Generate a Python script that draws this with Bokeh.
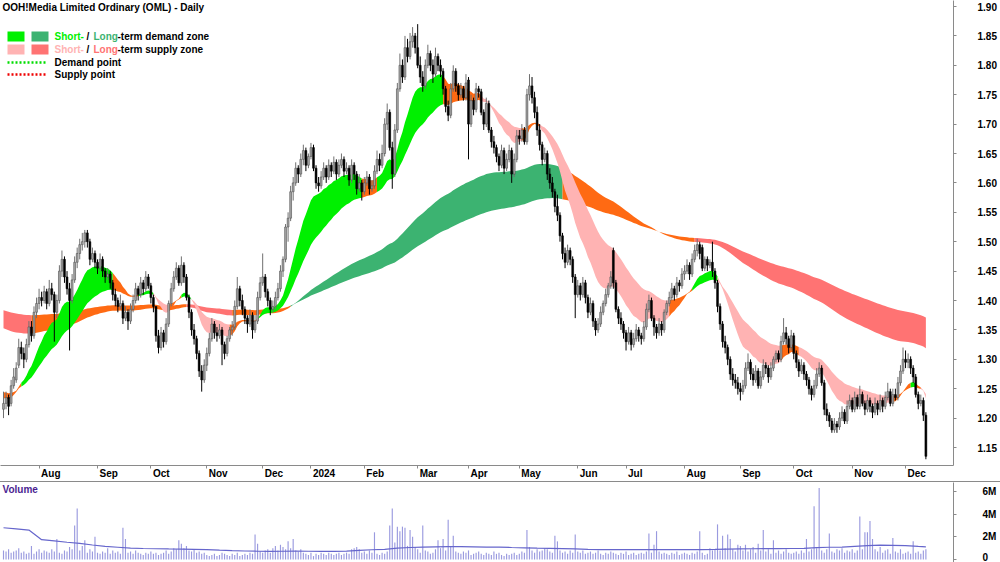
import numpy as np
import pandas as pd
from bokeh.plotting import figure
from bokeh.models import (Range1d, FixedTicker, Label, BoxAnnotation, PrintfTickFormatter, Div,
                          ColumnDataSource, LinearAxis, CustomLabelingPolicy)
from bokeh.layouts import column
from bokeh.embed import file_html
from bokeh.resources import INLINE

# ---------------- data ----------------
START = "2023-07-12"
END = "2024-12-12"
HOLIDAYS = ["2023-12-25", "2023-12-26", "2024-01-01", "2024-01-26", "2024-03-29",
            "2024-04-01", "2024-04-25", "2024-06-10"]

OPEN = [1.215,1.225,1.235,1.225,1.255,1.265,1.290,1.320,1.310,1.300,
1.325,1.355,1.340,1.380,1.395,1.405,1.400,1.415,1.395,1.420,
1.410,1.380,1.400,1.450,1.470,1.440,1.420,1.400,1.435,1.465,
1.480,1.495,1.500,1.515,1.500,1.470,1.480,1.465,1.455,1.470,
1.450,1.440,1.445,1.430,1.410,1.400,1.390,1.395,1.370,1.380,
1.365,1.385,1.400,1.420,1.410,1.430,1.420,1.440,1.425,1.405,
1.390,1.340,1.320,1.345,1.330,1.360,1.395,1.420,1.440,1.455,
1.430,1.460,1.440,1.405,1.380,1.350,1.335,1.310,1.280,1.265,
1.290,1.310,1.335,1.360,1.345,1.340,1.350,1.325,1.310,1.335,
1.350,1.355,1.390,1.420,1.400,1.385,1.370,1.360,1.375,1.350,
1.365,1.405,1.430,1.440,1.415,1.400,1.385,1.390,1.405,1.420,
1.450,1.470,1.525,1.540,1.585,1.600,1.625,1.615,1.640,1.655,
1.630,1.645,1.660,1.625,1.600,1.595,1.610,1.625,1.610,1.630,
1.620,1.635,1.615,1.630,1.640,1.620,1.625,1.605,1.630,1.615,
1.590,1.600,1.585,1.600,1.610,1.590,1.595,1.620,1.640,1.630,
1.650,1.700,1.720,1.660,1.615,1.690,1.760,1.800,1.780,1.830,
1.815,1.840,1.850,1.830,1.800,1.780,1.765,1.800,1.820,1.800,
1.785,1.815,1.800,1.790,1.760,1.730,1.715,1.760,1.790,1.765,
1.750,1.760,1.745,1.775,1.700,1.740,1.725,1.760,1.755,1.720,
1.700,1.735,1.690,1.670,1.660,1.645,1.630,1.655,1.625,1.640,
1.655,1.615,1.640,1.680,1.675,1.690,1.670,1.750,1.765,1.745,
1.720,1.690,1.665,1.640,1.650,1.615,1.600,1.585,1.560,1.545,
1.510,1.480,1.465,1.485,1.470,1.440,1.410,1.425,1.410,1.430,
1.405,1.380,1.395,1.365,1.350,1.360,1.380,1.395,1.410,1.425,
1.485,1.430,1.385,1.370,1.360,1.345,1.330,1.345,1.325,1.335,
1.350,1.340,1.335,1.355,1.385,1.400,1.370,1.355,1.345,1.360,
1.350,1.380,1.395,1.405,1.420,1.410,1.430,1.425,1.445,1.450,
1.460,1.445,1.470,1.485,1.495,1.490,1.455,1.470,1.460,1.465,
1.450,1.430,1.390,1.360,1.330,1.320,1.300,1.275,1.265,1.260,
1.250,1.245,1.255,1.285,1.295,1.275,1.265,1.280,1.255,1.270,
1.290,1.285,1.270,1.285,1.300,1.310,1.300,1.330,1.345,1.335,
1.320,1.340,1.310,1.295,1.280,1.290,1.275,1.265,1.250,1.240,
1.255,1.275,1.285,1.260,1.215,1.205,1.195,1.180,1.190,1.185,
1.200,1.210,1.195,1.220,1.230,1.215,1.235,1.220,1.240,1.225,
1.215,1.230,1.220,1.210,1.225,1.215,1.230,1.220,1.235,1.245,
1.225,1.240,1.235,1.260,1.280,1.300,1.295,1.300,1.285,1.270,
1.240,1.225,1.230,1.205]

HIGH = [1.245,1.245,1.240,1.265,1.285,1.295,1.335,1.330,1.320,1.335,
1.365,1.365,1.390,1.405,1.420,1.415,1.425,1.420,1.435,1.430,
1.415,1.410,1.460,1.485,1.475,1.450,1.430,1.445,1.475,1.490,
1.505,1.515,1.520,1.520,1.505,1.490,1.485,1.470,1.480,1.475,
1.455,1.455,1.450,1.435,1.420,1.405,1.410,1.400,1.390,1.385,
1.395,1.410,1.430,1.425,1.440,1.435,1.450,1.445,1.430,1.410,
1.390,1.350,1.355,1.350,1.370,1.400,1.430,1.450,1.465,1.460,
1.475,1.465,1.445,1.410,1.385,1.360,1.340,1.315,1.290,1.300,
1.320,1.345,1.370,1.365,1.355,1.360,1.355,1.330,1.340,1.355,
1.365,1.400,1.440,1.425,1.410,1.390,1.375,1.385,1.380,1.375,
1.415,1.440,1.480,1.445,1.420,1.405,1.400,1.415,1.430,1.460,
1.475,1.530,1.550,1.595,1.610,1.635,1.630,1.650,1.665,1.660,
1.650,1.668,1.665,1.630,1.610,1.620,1.635,1.630,1.640,1.635,
1.645,1.640,1.640,1.650,1.645,1.635,1.630,1.640,1.635,1.620,
1.615,1.605,1.610,1.620,1.615,1.605,1.630,1.655,1.650,1.665,
1.710,1.735,1.725,1.670,1.700,1.770,1.820,1.810,1.850,1.845,
1.855,1.865,1.855,1.870,1.815,1.790,1.810,1.835,1.825,1.810,
1.830,1.820,1.810,1.795,1.765,1.740,1.770,1.800,1.795,1.770,
1.770,1.765,1.785,1.780,1.750,1.745,1.770,1.765,1.760,1.725,
1.745,1.740,1.695,1.680,1.665,1.650,1.665,1.660,1.650,1.665,
1.660,1.650,1.690,1.690,1.700,1.695,1.760,1.785,1.780,1.755,
1.730,1.700,1.670,1.660,1.655,1.625,1.610,1.590,1.580,1.550,
1.515,1.490,1.495,1.490,1.475,1.445,1.435,1.430,1.440,1.435,
1.410,1.405,1.400,1.370,1.370,1.390,1.400,1.420,1.430,1.450,
1.490,1.435,1.390,1.380,1.365,1.350,1.355,1.350,1.345,1.360,
1.355,1.345,1.365,1.395,1.410,1.405,1.375,1.360,1.370,1.365,
1.385,1.400,1.415,1.430,1.425,1.440,1.435,1.455,1.460,1.470,
1.465,1.480,1.495,1.505,1.500,1.495,1.475,1.475,1.470,1.500,
1.455,1.435,1.395,1.365,1.340,1.325,1.305,1.285,1.275,1.270,
1.260,1.265,1.295,1.310,1.300,1.285,1.290,1.285,1.280,1.300,
1.295,1.290,1.295,1.305,1.315,1.315,1.340,1.370,1.355,1.340,
1.350,1.345,1.315,1.300,1.300,1.295,1.280,1.270,1.255,1.265,
1.285,1.295,1.290,1.265,1.225,1.210,1.200,1.200,1.195,1.210,
1.220,1.215,1.230,1.240,1.235,1.245,1.240,1.255,1.245,1.230,
1.240,1.235,1.225,1.235,1.230,1.240,1.235,1.245,1.260,1.250,
1.250,1.250,1.270,1.290,1.320,1.315,1.310,1.305,1.290,1.275,
1.245,1.240,1.235,1.210]

LOW = [1.200,1.215,1.205,1.220,1.250,1.260,1.285,1.300,1.285,1.295,
1.320,1.330,1.335,1.370,1.385,1.390,1.395,1.385,1.390,1.400,
1.330,1.370,1.395,1.440,1.430,1.410,1.315,1.395,1.430,1.455,
1.470,1.485,1.490,1.490,1.460,1.465,1.455,1.445,1.450,1.440,
1.430,1.435,1.420,1.400,1.390,1.380,1.385,1.360,1.365,1.350,
1.360,1.380,1.395,1.400,1.405,1.410,1.415,1.420,1.395,1.380,
1.330,1.310,1.315,1.320,1.325,1.355,1.390,1.415,1.435,1.425,
1.425,1.430,1.400,1.370,1.340,1.325,1.300,1.270,1.245,1.260,
1.280,1.305,1.330,1.335,1.330,1.335,1.290,1.300,1.305,1.330,
1.340,1.350,1.385,1.390,1.375,1.360,1.345,1.355,1.335,1.345,
1.360,1.400,1.425,1.405,1.390,1.375,1.380,1.385,1.400,1.415,
1.440,1.465,1.500,1.535,1.570,1.595,1.600,1.610,1.630,1.620,
1.625,1.640,1.620,1.590,1.585,1.590,1.605,1.600,1.605,1.610,
1.615,1.605,1.610,1.625,1.610,1.615,1.595,1.600,1.605,1.580,
1.585,1.570,1.580,1.595,1.580,1.585,1.590,1.615,1.620,1.625,
1.645,1.690,1.655,1.590,1.610,1.685,1.755,1.770,1.775,1.805,
1.810,1.830,1.820,1.795,1.770,1.755,1.760,1.795,1.790,1.770,
1.780,1.790,1.780,1.750,1.720,1.705,1.710,1.755,1.755,1.740,
1.745,1.740,1.740,1.640,1.695,1.715,1.720,1.745,1.715,1.690,
1.695,1.685,1.660,1.650,1.635,1.620,1.625,1.615,1.620,1.635,
1.600,1.610,1.635,1.665,1.670,1.665,1.665,1.740,1.735,1.710,
1.680,1.655,1.630,1.635,1.605,1.590,1.575,1.550,1.535,1.500,
1.470,1.455,1.460,1.460,1.430,1.370,1.405,1.400,1.405,1.395,
1.370,1.375,1.355,1.340,1.345,1.355,1.375,1.390,1.405,1.420,
1.420,1.380,1.360,1.350,1.335,1.315,1.325,1.315,1.320,1.330,
1.330,1.325,1.330,1.350,1.380,1.365,1.340,1.335,1.340,1.340,
1.345,1.375,1.390,1.400,1.400,1.405,1.415,1.420,1.435,1.445,
1.435,1.440,1.465,1.475,1.470,1.450,1.450,1.450,1.455,1.440,
1.420,1.380,1.350,1.320,1.310,1.290,1.265,1.255,1.250,1.240,
1.230,1.240,1.250,1.280,1.265,1.255,1.260,1.250,1.250,1.265,
1.275,1.260,1.265,1.280,1.295,1.295,1.295,1.325,1.325,1.310,
1.315,1.300,1.285,1.270,1.275,1.265,1.255,1.240,1.230,1.235,
1.250,1.270,1.255,1.205,1.195,1.185,1.175,1.175,1.175,1.180,
1.195,1.190,1.190,1.215,1.210,1.210,1.215,1.215,1.220,1.205,
1.210,1.210,1.200,1.205,1.205,1.210,1.210,1.215,1.230,1.220,
1.220,1.230,1.230,1.255,1.275,1.285,1.285,1.275,1.260,1.235,
1.215,1.220,1.195,1.130]

CLOSE = [1.225,1.235,1.220,1.255,1.270,1.285,1.320,1.310,1.300,1.325,
1.355,1.340,1.380,1.395,1.405,1.400,1.415,1.395,1.420,1.410,
1.380,1.400,1.450,1.470,1.440,1.420,1.400,1.435,1.465,1.480,
1.495,1.500,1.515,1.500,1.470,1.480,1.465,1.455,1.470,1.450,
1.440,1.445,1.430,1.410,1.400,1.390,1.395,1.370,1.380,1.365,
1.385,1.400,1.420,1.410,1.430,1.420,1.440,1.425,1.405,1.390,
1.340,1.320,1.345,1.330,1.360,1.395,1.420,1.440,1.455,1.430,
1.460,1.440,1.405,1.380,1.350,1.335,1.310,1.280,1.265,1.290,
1.310,1.335,1.360,1.345,1.340,1.350,1.325,1.310,1.335,1.350,
1.355,1.390,1.420,1.400,1.385,1.370,1.360,1.375,1.350,1.365,
1.405,1.430,1.440,1.415,1.400,1.385,1.390,1.405,1.420,1.450,
1.470,1.525,1.540,1.585,1.600,1.625,1.615,1.640,1.655,1.630,
1.645,1.660,1.625,1.600,1.595,1.610,1.625,1.610,1.630,1.620,
1.635,1.615,1.630,1.640,1.620,1.625,1.605,1.630,1.615,1.590,
1.600,1.585,1.600,1.610,1.590,1.595,1.620,1.640,1.630,1.650,
1.700,1.720,1.660,1.615,1.690,1.760,1.800,1.780,1.830,1.815,
1.840,1.850,1.830,1.800,1.780,1.765,1.800,1.820,1.800,1.785,
1.815,1.800,1.790,1.760,1.730,1.715,1.760,1.790,1.765,1.750,
1.760,1.745,1.770,1.700,1.740,1.725,1.760,1.755,1.720,1.700,
1.735,1.690,1.670,1.660,1.645,1.630,1.655,1.625,1.640,1.655,
1.615,1.640,1.680,1.675,1.690,1.670,1.750,1.765,1.745,1.720,
1.690,1.665,1.640,1.650,1.615,1.600,1.585,1.560,1.545,1.510,
1.480,1.465,1.485,1.470,1.440,1.410,1.425,1.410,1.430,1.405,
1.380,1.395,1.365,1.350,1.360,1.380,1.395,1.410,1.425,1.440,
1.430,1.385,1.370,1.360,1.345,1.330,1.345,1.325,1.335,1.350,
1.340,1.335,1.355,1.385,1.400,1.370,1.355,1.345,1.360,1.350,
1.380,1.395,1.405,1.420,1.410,1.430,1.425,1.445,1.450,1.460,
1.445,1.470,1.485,1.495,1.480,1.455,1.470,1.460,1.465,1.450,
1.430,1.390,1.360,1.330,1.320,1.300,1.275,1.265,1.260,1.250,
1.245,1.255,1.285,1.295,1.275,1.265,1.280,1.255,1.270,1.290,
1.285,1.270,1.285,1.300,1.310,1.300,1.330,1.345,1.335,1.320,
1.340,1.310,1.295,1.280,1.290,1.275,1.265,1.250,1.240,1.255,
1.275,1.285,1.260,1.215,1.205,1.195,1.180,1.190,1.185,1.200,
1.210,1.195,1.220,1.230,1.215,1.235,1.220,1.240,1.225,1.215,
1.230,1.220,1.210,1.225,1.215,1.230,1.220,1.235,1.245,1.225,
1.240,1.235,1.260,1.280,1.300,1.295,1.300,1.285,1.270,1.240,
1.225,1.230,1.205,1.135]

# daily volume, millions of shares
VOLUME = [0.8,0.7,0.9,0.6,0.7,0.8,1.0,0.6,0.7,0.5,
0.6,1.2,0.5,0.7,0.9,0.6,0.8,0.7,0.6,0.9,
0.7,1.8,0.6,0.5,0.8,0.7,1.1,0.9,3.0,4.5,
0.8,1.2,1.7,0.6,0.9,0.7,2.0,0.6,0.5,0.7,
0.6,1.0,0.5,0.8,0.6,0.7,0.5,2.8,1.8,0.6,
0.7,0.5,0.8,0.6,0.5,0.4,0.6,0.5,0.7,0.5,
0.6,0.4,0.5,0.6,0.8,0.5,0.7,1.0,0.9,1.7,
1.4,1.0,1.2,0.8,0.7,0.9,0.6,0.7,0.5,0.6,
0.4,0.3,0.4,0.5,0.3,0.4,0.6,0.5,0.4,0.3,
0.5,0.4,0.6,0.3,0.4,0.5,0.4,0.6,0.5,2.2,
1.4,0.7,0.6,0.8,0.9,0.6,1.0,1.2,0.8,1.3,
1.1,0.9,1.6,1.0,1.8,0.8,0.7,0.9,0.6,0.5,
0.4,0.6,0.3,0.5,0.4,0.6,0.5,0.4,0.6,0.5,
0.4,0.5,0.6,0.4,0.5,0.6,0.5,0.9,1.0,1.1,
0.9,0.6,0.7,0.5,0.8,0.6,2.4,0.5,0.4,0.6,
0.5,0.7,3.0,4.5,1.5,2.9,2.5,2.9,2.8,1.2,
2.6,2.0,1.1,0.9,0.6,3.0,0.8,0.7,0.5,0.6,
0.9,1.7,1.0,1.8,0.8,3.5,1.2,2.1,0.7,0.6,
0.5,0.7,0.6,0.8,0.4,0.5,0.6,0.7,0.5,0.4,
0.6,0.5,0.4,0.7,0.5,0.6,0.4,0.3,0.5,0.4,
0.5,0.6,0.4,0.5,0.7,0.6,2.6,1.1,0.8,0.6,
0.9,0.7,0.8,1.0,0.9,0.7,0.6,2.1,1.6,0.8,
0.6,0.7,0.5,0.8,0.6,2.2,0.7,0.6,0.8,0.5,
0.6,0.7,0.5,0.6,0.8,0.5,0.4,0.6,0.5,0.7,
0.6,0.5,0.4,0.6,0.5,0.7,0.4,0.5,0.6,0.4,
0.5,0.6,0.5,0.7,2.3,0.6,1.3,2.5,0.7,0.5,
0.6,0.5,0.4,0.6,0.5,0.7,0.4,0.5,0.6,0.5,
0.4,0.6,0.5,0.7,2.5,0.6,0.4,0.5,1.0,0.8,
0.9,3.1,0.8,2.1,1.0,2.2,1.8,0.9,0.7,1.3,
1.2,0.8,1.3,0.7,0.9,1.1,0.6,1.4,0.8,2.6,
0.7,0.9,0.5,1.7,0.6,0.8,0.5,0.7,0.9,0.6,
0.5,0.6,0.7,0.5,0.8,0.6,1.8,0.7,0.9,4.7,
1.0,6.3,0.8,0.6,0.9,2.3,0.7,0.6,0.9,0.8,
1.0,0.6,0.8,0.7,0.9,0.6,0.8,3.8,0.9,2.4,
2.4,3.4,1.8,0.9,0.7,1.1,0.6,0.8,0.9,0.5,
1.9,0.7,0.6,0.9,0.5,0.6,0.7,0.5,1.6,0.6,
0.7,0.5,0.8,0.9]

# average volume (millions), one reading every 5 sessions
AVG_VOLUME_STEP = 5
AVG_VOLUME = [2.80,2.70,2.60,1.75,1.65,1.52,1.42,1.28,1.15,1.08,
1.00,0.97,0.95,0.93,0.92,0.90,0.87,0.82,0.78,0.75,
0.73,0.72,0.73,0.74,0.73,0.72,0.72,0.74,0.80,0.86,
0.90,1.00,1.06,1.10,1.12,1.14,1.13,1.12,1.10,1.10,
1.06,1.03,1.00,0.98,0.96,0.93,0.90,0.88,0.88,0.87,
0.87,0.88,0.88,0.87,0.87,0.88,0.89,0.91,0.93,0.95,
0.96,0.96,0.97,0.98,1.05,1.08,1.10,1.16,1.22,1.26,
1.25,1.22,1.15,1.12]

# zone bands: EMA pairs (spans) with their starting values
SHORT_SPANS = (16, 36)
SHORT_SEEDS = (1.235, 1.245)
LONG_SPANS = (130, 220)
LONG_SEEDS = (1.355, 1.385)

# zone state runs: (first session index, state)
SHORT_ZONES = [(0,"o"),(7,"g"),(43,"o"),(53,"g"),(59,"p"),(65,"o"),(70,"g"),(74,"p"),
               (89,"o"),(100,"g"),(141,"o"),(147,"g"),(173,"o"),(188,"p"),(204,"o"),
               (211,"p"),(262,"o"),(271,"g"),(281,"p"),(306,"o"),(313,"p"),(350,"o"),
               (357,"g"),(359,"o"),(361,"p")]
LONG_ZONES = [(0,"s"),(11,"o"),(72,"s"),(90,"o"),(113,"d"),(220,"o"),(272,"s")]

PRICE_TICKS = [1.15,1.20,1.25,1.30,1.35,1.40,1.45,1.50,1.55,1.60,1.65,1.70,1.75,1.80,1.85,1.90]
VOLUME_TICKS = [0, 2, 4, 6]
VOLUME_LABELS = {0: "0", 2: "2M", 4: "4M", 6: "6M"}

TITLE = "OOH!Media Limited Ordinary (OML) - Daily"

# ---------------- styling ----------------
FONT = "Liberation Sans"
C_SG = "#00F000"
C_LG = "#3CB371"
C_SP = "#FFB3B3"
C_LP = "#FF7373"
C_OR = "#FF6A13"
ZONE_COLORS = {"g": C_SG, "d": C_LG, "p": C_SP, "s": C_LP, "o": C_OR}
AXIS_COLOR = "#8a8a8a"
# bold sans glyph advance widths (per 1000 em) used to place left-aligned month labels
GLYPH_W = {"A": 722, "u": 611, "g": 611, "S": 667, "e": 556, "p": 611, "O": 778, "c": 556,
           "t": 333, "N": 722, "o": 611, "v": 556, "D": 722, "2": 556, "0": 556, "4": 556,
           "F": 611, "b": 611, "M": 833, "a": 556, "r": 389, "y": 556, "J": 556, "n": 611,
           "l": 278}

dates = pd.bdate_range(START, END, freq="C", holidays=HOLIDAYS)
n = min(len(dates), len(CLOSE))
dates = dates[:n]
idx = np.arange(n)
O = np.array(OPEN[:n]); H = np.array(HIGH[:n]); L = np.array(LOW[:n]); C = np.array(CLOSE[:n])
V = np.array(VOLUME[:n])

FW, FH = 953, 465
PX_PER_BAR = 2.541
X0 = -1.18
X1 = X0 + FW / PX_PER_BAR
Y1 = 1.90 + 6 / 588.0
Y0 = 1.90 - (FH - 6) / 588.0


def sx(px):
    return X0 + px * (X1 - X0) / FW


def sy(py):
    return Y1 - py * (Y1 - Y0) / FH


def ema(vals, span, seed):
    a = 2.0 / (span + 1)
    e = seed
    out = []
    for v in vals:
        e += a * (v - e)
        out.append(e)
    return np.array(out)


p = figure(width=1000, height=481, x_range=Range1d(X0, X1), y_range=Range1d(Y0, Y1),
           y_axis_location="right", output_backend="svg", toolbar_location=None,
           min_border_left=0, min_border_right=47, min_border_top=0, min_border_bottom=16)
p.outline_line_color = None
p.xgrid.visible = False
p.ygrid.visible = False
p.background_fill_color = "white"
p.border_fill_color = "white"


def draw_band(fig, a, b, runs):
    lo = np.minimum(a, b)
    hi = np.maximum(a, b)
    for k, (s, z) in enumerate(runs):
        e = runs[k + 1][0] if k + 1 < len(runs) else n - 1
        sl = slice(s, e + 1)
        fig.varea(x=idx[sl], y1=lo[sl], y2=hi[sl], fill_color=ZONE_COLORS[z], fill_alpha=1.0)


long_a = ema(C, LONG_SPANS[0], LONG_SEEDS[0])
long_b = ema(C, LONG_SPANS[1], LONG_SEEDS[1])
short_a = ema(C, SHORT_SPANS[0], SHORT_SEEDS[0])
short_b = ema(C, SHORT_SPANS[1], SHORT_SEEDS[1])
draw_band(p, long_a, long_b, LONG_ZONES)
draw_band(p, short_a, short_b, SHORT_ZONES)

up = C >= O
dn = ~up
src_up = ColumnDataSource(dict(x=idx[up], top=C[up], bottom=O[up], high=H[up], low=L[up]))
src_dn = ColumnDataSource(dict(x=idx[dn], top=O[dn], bottom=C[dn], high=H[dn], low=L[dn]))
p.segment(x0="x", y0="low", x1="x", y1="high", source=src_up, line_color="#707070", line_width=1)
p.vbar(x="x", width=0.72, top="top", bottom="bottom", source=src_up,
       fill_color="#A8A8A8", line_color="#505050", line_width=0.6)
p.segment(x0="x", y0="low", x1="x", y1="high", source=src_dn, line_color="#000000", line_width=1)
p.vbar(x="x", width=0.72, top="top", bottom="bottom", source=src_dn,
       fill_color="#000000", line_color="#000000", line_width=0.6)

# ---- x axis: tick marks at month starts (primary axis, its own labels suppressed) ----
month_idx = [i for i in range(1, n) if dates[i].month != dates[i - 1].month]
month_lab = {i: ("2024" if dates[i].month == 1 else dates[i].strftime("%b")) for i in month_idx}
xa = p.xaxis[0]
xa.ticker = FixedTicker(ticks=month_idx)
xa.major_label_policy = CustomLabelingPolicy(code="""
    for (const i of Array.from(indices)) { indices.unset(i) }
    return indices
""")
xa.major_label_text_font_size = "0px"
xa.major_label_standoff = 0
xa.major_tick_out = 3
xa.major_tick_in = 0
xa.minor_tick_line_color = None
xa.axis_line_color = AXIS_COLOR
xa.major_tick_line_color = AXIS_COLOR

# ---- second axis carrying the month names, centred so they start just right of each tick ----
label_pos = {}
for i in month_idx:
    t = month_lab[i]
    w = sum(GLYPH_W.get(ch, 556) for ch in t) * 10 / 1000.0
    label_pos[round(i + (w / 2 + 2) / PX_PER_BAR, 2)] = t
xl = LinearAxis(ticker=FixedTicker(ticks=list(label_pos.keys())),
                major_label_overrides=label_pos)
xl.axis_line_color = None
xl.major_tick_line_color = None
xl.minor_tick_line_color = None
xl.major_tick_out = 0
xl.major_tick_in = 0
xl.major_label_standoff = -1
xl.major_label_text_font = FONT
xl.major_label_text_font_size = "10px"
xl.major_label_text_font_style = "bold"
xl.major_label_text_color = "#000000"
p.add_layout(xl, "below")

ya = p.yaxis[0]
ya.ticker = FixedTicker(ticks=PRICE_TICKS)
ya.formatter = PrintfTickFormatter(format="%.2f")
ya.major_label_standoff = 21
ya.major_tick_out = 3
ya.major_tick_in = 0
ya.minor_tick_line_color = None
ya.axis_line_color = AXIS_COLOR
ya.major_tick_line_color = AXIS_COLOR
ya.major_label_text_font = FONT
ya.major_label_text_font_size = "10px"
ya.major_label_text_font_style = "bold"
ya.major_label_text_color = "#000000"


def lab(fig, x, y, text, color="#000000"):
    fig.add_layout(Label(x=x, y=y, text=text, text_font=FONT, text_font_size="10px",
                         text_font_style="bold", text_color=color, text_baseline="middle",
                         text_align="left"))


# title and legend
lab(p, sx(2), sy(7), TITLE)
for (l, r, t, b, col) in [(7, 24, 31, 41, C_SG), (31, 48, 31, 41, C_LG),
                          (7, 24, 44, 54, C_SP), (31, 48, 44, 54, C_LP)]:
    p.add_layout(BoxAnnotation(left=sx(l), right=sx(r), top=sy(t), bottom=sy(b),
                               fill_color=col, fill_alpha=1.0, line_color=None))
lab(p, sx(54), sy(36), "Short-", C_SG)
lab(p, sx(86), sy(36), "/")
lab(p, sx(93), sy(36), "Long", C_LG)
lab(p, sx(117), sy(36), "-term demand zone")
lab(p, sx(54), sy(49), "Short-", C_SP)
lab(p, sx(86), sy(49), "/")
lab(p, sx(93), sy(49), "Long", C_LP)
lab(p, sx(117), sy(49), "-term supply zone")
p.line(x=[sx(7), sx(46)], y=[sy(62), sy(62)], line_color="#00DD00", line_width=2.5, line_dash="2 2")
p.line(x=[sx(7), sx(46)], y=[sy(74), sy(74)], line_color="#EE0000", line_width=2.5, line_dash="2 2")
lab(p, sx(54), sy(62), "Demand point")
lab(p, sx(54), sy(74), "Supply point")

# ---------------- volume panel ----------------
VH = 80
VTOP, VBOT = 6.795, -0.265
v = figure(width=1000, height=VH, x_range=p.x_range, y_range=Range1d(VBOT, VTOP),
           y_axis_location="right", x_axis_location=None, output_backend="svg",
           toolbar_location=None, min_border_left=0, min_border_right=47,
           min_border_top=0, min_border_bottom=0)
v.outline_line_color = None
v.xgrid.visible = False
v.ygrid.visible = False
v.vbar(x=idx, top=V, bottom=0, width=0.45, fill_color="#9A9ADF", line_color=None)
avg_x = [min(i * AVG_VOLUME_STEP, n - 1) for i in range(len(AVG_VOLUME))]
v.line(x=avg_x, y=AVG_VOLUME, line_color="#6666CC", line_width=1.2)

vy = v.yaxis[0]
vy.ticker = FixedTicker(ticks=VOLUME_TICKS)
vy.major_label_overrides = VOLUME_LABELS
vy.major_label_standoff = 26
vy.major_tick_out = 3
vy.major_tick_in = 0
vy.minor_tick_line_color = None
vy.axis_line_color = AXIS_COLOR
vy.major_tick_line_color = AXIS_COLOR
vy.major_label_text_font = FONT
vy.major_label_text_font_size = "10px"
vy.major_label_text_font_style = "bold"
vy.major_label_text_color = "#000000"


def vpy(py):
    return VTOP - (py - 482) * (VTOP - VBOT) / VH


v.add_layout(Label(x=sx(2), y=vpy(489), text="Volume", text_font=FONT, text_font_size="10px",
                   text_font_style="bold", text_color="#4B1E91", text_baseline="middle",
                   text_align="left"))

sep = Div(text="", width=1000, height=1, margin=0,
          styles={"background-color": "#8a8a8a"})
layout = column(p, sep, v, spacing=0)

open("out.html", "w").write(file_html(layout, INLINE, title="OML"))
